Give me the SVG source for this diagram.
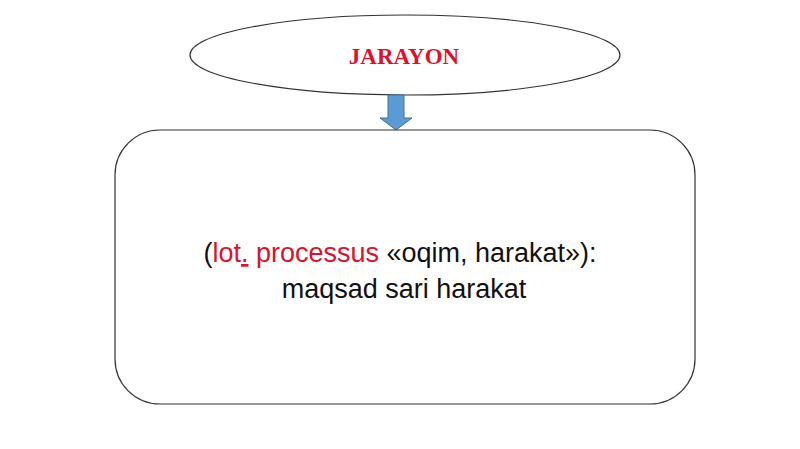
<svg xmlns="http://www.w3.org/2000/svg" width="800" height="449" viewBox="0 0 800 449">
<style>
.shape{fill:#fff;stroke:#333;stroke-width:1.2}
.t{font-family:"Liberation Sans",Arial,sans-serif;font-size:27px;fill:#111}
.red{fill:#e0102a}
</style>
<rect width="800" height="449" fill="#fff"/>
<g id="node-jarayon">
<ellipse class="shape" cx="405" cy="55" rx="215" ry="40"/>
<text x="404" y="64" text-anchor="middle" font-family="'Liberation Serif','Times New Roman',serif" font-weight="bold" font-size="23" fill="#e0102a">JARAYON</text>
</g>
<g id="connectors">
<path d="M388 95 H404 V118 H412 L396 130 L380 118 H388 Z" fill="#5b9bd5" stroke="#41719c" stroke-width="1"/>
</g>
<g id="node-definition">
<rect class="shape" x="115" y="130" width="580" height="274" rx="45" ry="45"/>
<text class="t" x="400" y="262" text-anchor="middle">(<tspan class="red">lot<tspan text-decoration="underline">.</tspan> processus</tspan> «oqim, harakat»):</text>
<text class="t" x="404" y="298" text-anchor="middle">maqsad sari harakat</text>
</g>
</svg>
